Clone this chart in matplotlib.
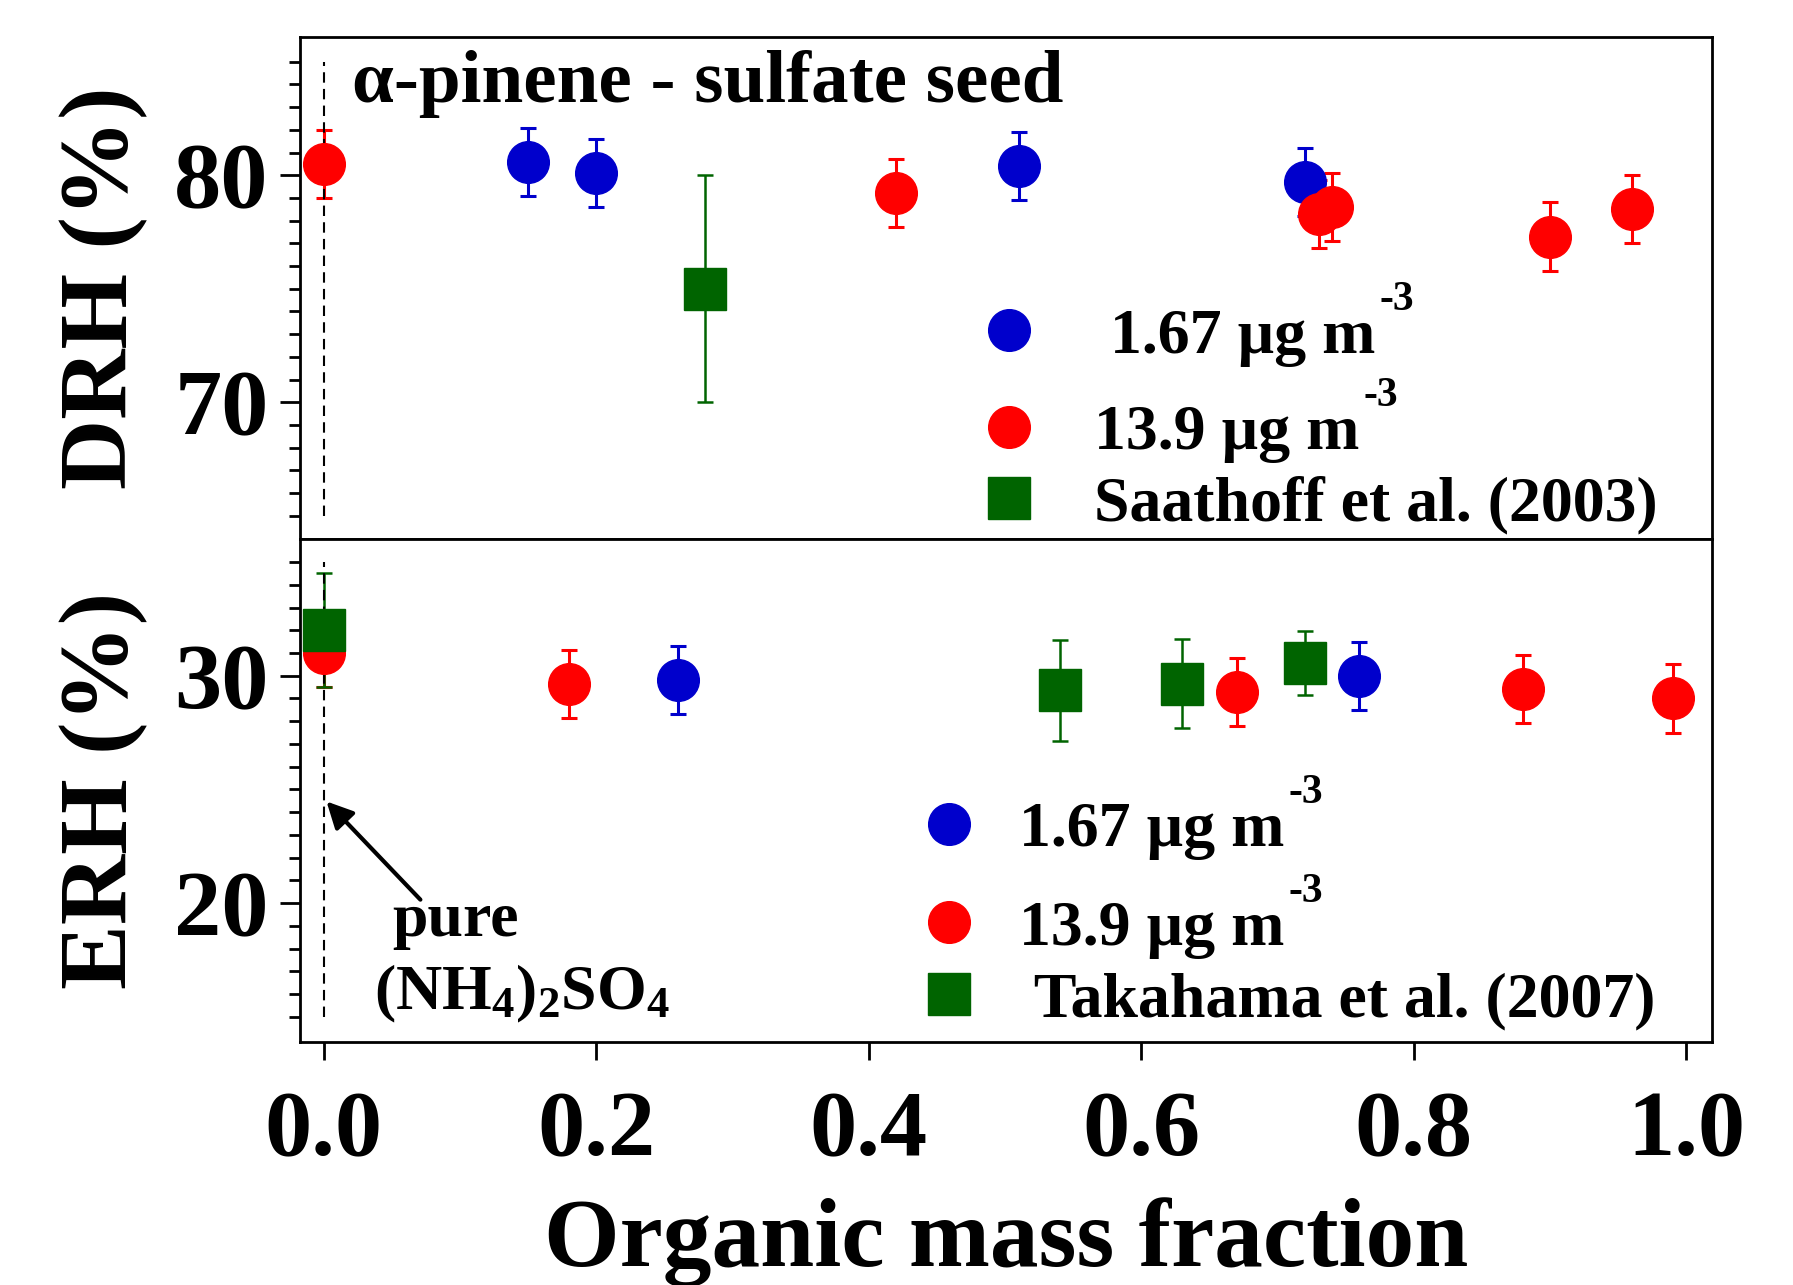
import numpy as np
import matplotlib
matplotlib.use("Agg")
import matplotlib.pyplot as plt
from matplotlib.lines import Line2D
from matplotlib.legend import Legend
from matplotlib.ticker import FixedLocator, StrMethodFormatter

plt.rcParams["font.family"] = ["Liberation Serif", "DejaVu Serif"]
plt.rcParams["font.weight"] = "bold"
plt.rcParams["axes.labelweight"] = "bold"
plt.rcParams["mathtext.fontset"] = "custom"
plt.rcParams["mathtext.rm"] = "Liberation Serif:bold"
plt.rcParams["mathtext.it"] = "Liberation Serif:bold:italic"
plt.rcParams["mathtext.bf"] = "Liberation Serif:bold"
plt.rcParams["mathtext.default"] = "rm"

# DRH (gore)
drh_low_x = [0.15, 0.20, 0.51, 0.72]
drh_low_y = [80.6, 80.1, 80.4, 79.7]
drh_high_x = [0.0, 0.42, 0.73, 0.74, 0.90, 0.96]
drh_high_y = [80.5, 79.2, 78.3, 78.6, 77.3, 78.5]
saathoff_x = [0.28]
saathoff_y = [75.0]
saathoff_err = [5.0]

# ERH (dol)
erh_low_x = [0.26, 0.76]
erh_low_y = [29.8, 30.0]
erh_high_x = [0.0, 0.18, 0.67, 0.88, 0.99]
erh_high_y = [31.0, 29.65, 29.3, 29.4, 29.0]
takahama_x = [0.0, 0.54, 0.63, 0.72]
takahama_y = [32.0, 29.35, 29.65, 30.55]
takahama_err = [2.5, 2.2, 1.95, 1.4]

err_ours = 1.5

BLUE = "#0000CC"
RED = "#FF0000"
GREEN = "#006400"
MS = 30

fig = plt.figure(figsize=(17.93, 12.85), dpi=100)
ax1 = fig.add_axes([0.1672, 0.5803, 0.7875, 0.3911])
ax2 = fig.add_axes([0.1672, 0.1893, 0.7875, 0.3910], sharex=ax1)


def punkty(ax, x, y, err, kolor, marker, lw):
    ax.errorbar(x, y, yerr=err, fmt=marker, color=kolor, markersize=MS,
                ecolor=kolor, elinewidth=lw, capsize=6, capthick=lw)


# Wykres gorny - DRH
punkty(ax1, drh_low_x, drh_low_y, err_ours, BLUE, "o", 2.2)
punkty(ax1, drh_high_x, drh_high_y, err_ours, RED, "o", 2.2)
punkty(ax1, saathoff_x, saathoff_y, saathoff_err, GREEN, "s", 1.8)
ax1.vlines(0, 65, 85, colors="black", linestyles=(0, (5, 3)), linewidth=1.5)

# Wykres dolny - ERH
punkty(ax2, erh_low_x, erh_low_y, err_ours, BLUE, "o", 2.2)
punkty(ax2, erh_high_x, erh_high_y, err_ours, RED, "o", 2.2)
punkty(ax2, takahama_x, takahama_y, takahama_err, GREEN, "s", 1.8)
ax2.vlines(0, 15, 35, colors="black", linestyles=(0, (5, 3)), linewidth=1.5)

ax1.set_xlim(-0.0176, 1.0186)
ax1.set_ylim(63.96, 86.1)
ax2.set_ylim(13.9, 36.0)

for ax in (ax1, ax2):
    for s in ax.spines.values():
        s.set_linewidth(2)
    ax.tick_params(axis="y", which="major", direction="out", length=14.5,
                   width=2, labelsize=68, pad=8)
    ax.tick_params(axis="y", which="minor", direction="out", length=8, width=2)

ax1.yaxis.set_major_locator(FixedLocator([70, 80]))
ax1.yaxis.set_minor_locator(FixedLocator(np.arange(65, 86, 1)))
ax2.yaxis.set_major_locator(FixedLocator([20, 30]))
ax2.yaxis.set_minor_locator(FixedLocator(np.arange(15, 36, 1)))

ax1.tick_params(axis="x", which="both", bottom=False, labelbottom=False)
ax2.xaxis.set_major_locator(FixedLocator([0.0, 0.2, 0.4, 0.6, 0.8, 1.0]))
ax2.xaxis.set_major_formatter(StrMethodFormatter("{x:.1f}"))
ax2.tick_params(axis="x", which="major", direction="out", length=13,
                width=2, labelsize=68, pad=22)
ax2.tick_params(axis="x", which="minor", bottom=False)

ax1.set_ylabel("DRH (%)", fontsize=70, fontweight="bold")
ax2.set_ylabel("ERH (%)", fontsize=70, fontweight="bold")
ax1.yaxis.set_label_coords(-0.107, 0.5)
ax2.yaxis.set_label_coords(-0.107, 0.5)
ax2.set_xlabel("Organic mass fraction", fontsize=70, fontweight="bold")
ax2.xaxis.set_label_coords(0.5, -0.31)

ax1.text(0.037, 0.8707, "α-pinene - sulfate seed", transform=ax1.transAxes,
         fontsize=54, ha="left", va="baseline")

# Adnotacja - czysty siarczan amonu
ax2.text(0.050, 18.53, "pure", fontsize=46, ha="left", va="baseline")
ax2.text(0.037, 15.3, "(NH$_4$)$_2$SO$_4$", fontsize=46, ha="left", va="baseline")
ax2.annotate("", xy=(0.002, 24.47), xytext=(0.0709, 20.15),
             arrowprops=dict(arrowstyle="-|>", color="black", lw=3,
                             mutation_scale=40, shrinkA=0, shrinkB=0))


# Legendy - kazdy wpis osobno, bo odstepy miedzy wierszami sa nierowne
def wpis(ax, marker, kolor, tekst, x0, y0, pad, potega=False):
    h = Line2D([], [], marker=marker, color=kolor, markersize=MS, linestyle="none")
    leg = Legend(ax, [h], [tekst], loc="lower left", bbox_to_anchor=(x0, y0),
                 frameon=False, fontsize=46, borderpad=0, borderaxespad=0,
                 handlelength=1.0, handletextpad=pad)
    ax.add_artist(leg)
    if potega:
        ax.annotate("-3", xy=(1, 0), xycoords=leg.get_texts()[0],
                    xytext=(3, 41), textcoords="offset points",
                    fontsize=30, ha="left", va="baseline", zorder=6)


wpis(ax1, "o", BLUE, " 1.67 µg m", 0.4796, 0.3434, 0.83, True)
wpis(ax1, "o", RED, "13.9 µg m", 0.4796, 0.1512, 0.83, True)
wpis(ax1, "s", GREEN, "Saathoff et al. (2003)", 0.4796, 0.0105, 0.83)

wpis(ax2, "o", BLUE, "1.67 µg m", 0.437, 0.3609, 0.6, True)
wpis(ax2, "o", RED, "13.9 µg m", 0.437, 0.1652, 0.6, True)
wpis(ax2, "s", GREEN, " Takahama et al. (2007)", 0.437, 0.0233, 0.6)

fig.savefig("out.png", dpi=100)
